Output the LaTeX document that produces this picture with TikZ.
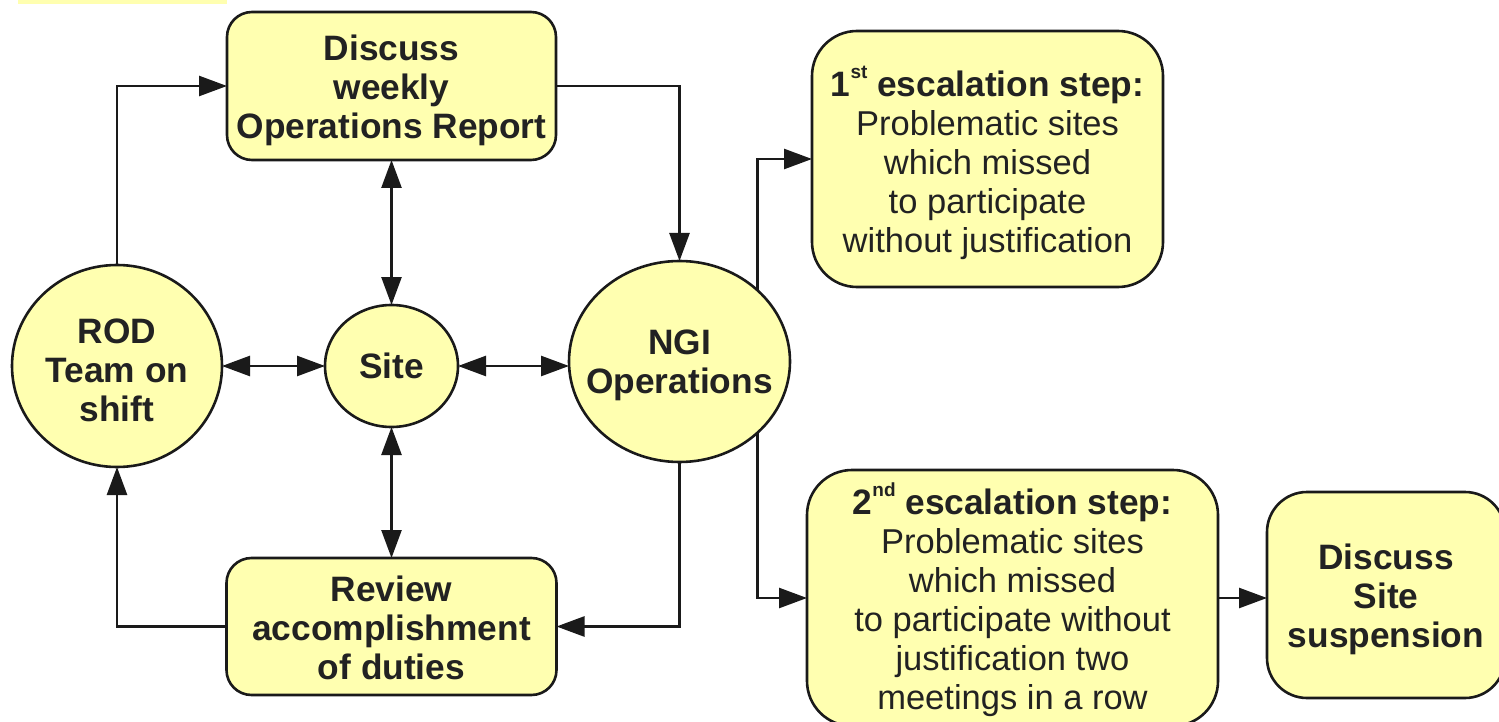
\documentclass[tikz,border=0pt]{standalone}
\usepackage{fontspec}
\setmainfont{Liberation Sans}
\usetikzlibrary{arrows.meta,shapes.geometric}
\definecolor{paleyellow}{RGB}{255,255,176}
\definecolor{ink}{RGB}{26,26,26}
\definecolor{txt}{RGB}{34,34,34}
\newcommand{\supr}[1]{\raisebox{0.5em}{\fontsize{19}{19}\selectfont #1}}
\newcommand{\hd}{\fontsize{35.3}{39}\selectfont\bfseries}
\begin{document}
\begin{tikzpicture}[x=1pt,y=-1pt,
  every node/.style={inner sep=0pt,outer sep=0pt,text=txt,align=center,
    font=\fontsize{34.5}{39}\selectfont},
  boxnode/.style={draw=ink,line width=2.6pt,fill=paleyellow,rectangle,
    rounded corners=25pt,minimum width=#1},
  escbox/.style={draw=ink,line width=2.6pt,fill=paleyellow,rectangle,
    rounded corners=45pt,minimum width=#1},
  oval/.style={draw=ink,line width=2.6pt,fill=paleyellow,ellipse},
  lbl/.style={yshift=-4pt},
  conn/.style={draw=ink,line width=2.6pt,-{Triangle[length=28pt,width=20pt]}},
  bothway/.style={draw=ink,line width=2.6pt,
    {Triangle[length=28pt,width=20pt]}-{Triangle[length=28pt,width=20pt]}}]
\useasboundingbox (0,0) rectangle (1499,722);

% strip of a shape above the top edge
\fill[paleyellow] (18,0) rectangle (227,4);

% boxes
\node[boxnode=329pt,minimum height=148pt] (report) at (391.5,86) {};
\node[lbl] (reportt) at (report.center)
  {\hd Discuss\\\hd weekly\\\hd Operations Report};
\node[boxnode=330pt,minimum height=137pt] (review) at (391.5,626.5) {};
\node[lbl,yshift=3pt] (reviewt) at (review.center)
  {\hd Review\\\hd accomplishment\\\hd of duties};
\node[escbox=351pt,minimum height=256pt] (esc1) at (987.5,159) {};
\node[lbl] (esc1t) at (esc1.center)
  {\hd 1\supr{st} escalation step:\\Problematic sites\\which missed\\to participate\\without justification};
\node[escbox=411pt,minimum height=256pt] (esc2) at (1012.5,598) {};
\node[lbl,yshift=2pt] (esc2t) at (esc2.center)
  {\hd 2\supr{nd} escalation step:\\Problematic sites\\which missed\\to participate without\\justification two\\meetings in a row};
\node[escbox=238pt,minimum height=206pt,rounded corners=40pt] (susp) at (1386,595) {};
\node[lbl] (suspt) at (susp.center)
  {\hd Discuss\\\hd Site\\\hd suspension};

% ovals
\node[oval,minimum width=210pt,minimum height=202pt] (rod) at (117,366) {};
\node[lbl] (rodt) at (rod.center) {\hd ROD\\\hd Team on\\\hd shift};
\node[oval,minimum width=133pt,minimum height=122pt] (site) at (391.5,366) {};
\node (sitet) at (site.center) {\hd Site};
\node[oval,minimum width=221pt,minimum height=201pt] (ngi) at (679.5,361.5) {};
\node[lbl] (ngit) at (ngi.center) {\hd NGI\\\hd Operations};

% connectors
\draw[conn] (rod.north) |- (report.west);
\draw[conn] (report.east) -| (ngi.north);
\draw[bothway] (report.south) -- (site.north);
\draw[bothway] (site.south) -- (review.north);
\draw[bothway] (rod.east) -- (rod.east -| site.west);
\draw[bothway] (site.east) -- (site.east -| ngi.west);
\draw[conn] (ngi.south) |- (review.east);
\draw[conn] (review.west) -| (rod.south);
\draw[conn] (ngi.north east) |- (esc1.west);
\draw[conn] (ngi.south east) |- (esc2.west);
\draw[conn] (esc2.east) -- (esc2.east -| susp.west);
\end{tikzpicture}
\end{document}
